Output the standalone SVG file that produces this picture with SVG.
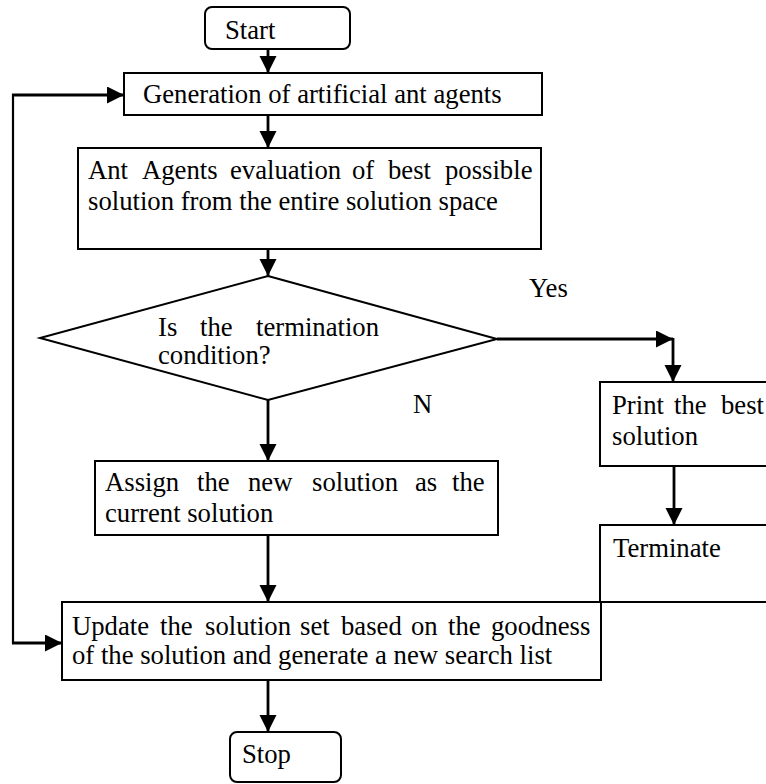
<svg xmlns="http://www.w3.org/2000/svg" width="766" height="784" viewBox="0 0 766 784">
<defs>
<marker id="ah" markerUnits="userSpaceOnUse" markerWidth="18" markerHeight="18" refX="17" refY="8.5" orient="auto">
<path d="M0,0 L17,8.5 L0,17 z" fill="#000"/>
</marker>
<style>
.box{fill:#fff;stroke:#000;stroke-width:2}
.c{fill:none;stroke:#000;stroke-width:2.8}
.t{font-family:"Liberation Serif","Times New Roman",serif;font-size:26.7px;fill:#000}
</style>
</defs>
<rect width="766" height="784" fill="#fff"/>
<g id="connectors">
<line class="c" x1="268" y1="49" x2="268" y2="73" marker-end="url(#ah)"/>
<line class="c" x1="268" y1="115" x2="268" y2="148" marker-end="url(#ah)"/>
<line class="c" x1="268" y1="249" x2="268" y2="276" marker-end="url(#ah)"/>
<line class="c" x1="268" y1="400" x2="268" y2="461" marker-end="url(#ah)"/>
<line class="c" x1="268" y1="535" x2="268" y2="602" marker-end="url(#ah)"/>
<line class="c" x1="268" y1="680" x2="268" y2="732" marker-end="url(#ah)"/>
<line class="c" x1="497" y1="339" x2="673" y2="339" marker-end="url(#ah)"/>
<line class="c" x1="673" y1="338" x2="673" y2="382" marker-end="url(#ah)"/>
<line class="c" x1="674" y1="466" x2="674" y2="525" marker-end="url(#ah)"/>
<line x1="13" y1="94" x2="13" y2="644" stroke="#000" stroke-width="2.2"/>
<line class="c" x1="12" y1="95" x2="124" y2="95" marker-end="url(#ah)"/>
<line class="c" x1="12" y1="643" x2="62" y2="643" marker-end="url(#ah)"/>
<text class="t" x="529" y="297">Yes</text>
<text class="t" x="413" y="413">N</text>
</g>
<g id="start">
<rect class="box" x="205" y="7" width="145" height="42" rx="7"/>
<text class="t" x="225" y="39">Start</text>
</g>
<g id="generation">
<rect class="box" x="124" y="73" width="418" height="42"/>
<text class="t" x="143" y="103">Generation of artificial ant agents</text>
</g>
<g id="evaluation">
<rect class="box" x="78" y="148" width="463" height="101"/>
<text class="t" y="179"><tspan x="88">Ant </tspan><tspan x="142">Agents </tspan><tspan x="230">evaluation </tspan><tspan x="352">of </tspan><tspan x="388">best </tspan><tspan x="445">possible</tspan></text>
<text class="t" x="88" y="210">solution from the entire solution space</text>
</g>
<g id="decision">
<polygon class="box" points="268,276 497,339 268,400 40,338"/>
<text class="t" y="336"><tspan x="158">Is </tspan><tspan x="200">the </tspan><tspan x="256">termination</tspan></text>
<text class="t" x="158" y="364">condition?</text>
</g>
<g id="print">
<rect class="box" x="600" y="382" width="200" height="84"/>
<text class="t" y="414"><tspan x="612">Print </tspan><tspan x="674">the </tspan><tspan x="721">best</tspan></text>
<text class="t" x="612" y="445">solution</text>
</g>
<g id="terminate">
<rect class="box" x="600" y="525" width="200" height="77"/>
<text class="t" x="613" y="557">Terminate</text>
</g>
<g id="assign">
<rect class="box" x="95" y="461" width="403" height="74"/>
<text class="t" y="491"><tspan x="105">Assign </tspan><tspan x="197">the </tspan><tspan x="248">new </tspan><tspan x="312">solution </tspan><tspan x="415">as </tspan><tspan x="452">the</tspan></text>
<text class="t" x="105" y="522">current solution</text>
</g>
<g id="update">
<rect class="box" x="62" y="602" width="539" height="78"/>
<text class="t" y="635"><tspan x="72">Update </tspan><tspan x="160">the </tspan><tspan x="205">solution </tspan><tspan x="300">set </tspan><tspan x="341">based </tspan><tspan x="411">on </tspan><tspan x="448">the </tspan><tspan x="491">goodness</tspan></text>
<text class="t" x="72" y="664">of the solution and generate a new search list</text>
</g>
<g id="stop">
<rect class="box" x="230" y="732" width="111" height="50" rx="7"/>
<text class="t" x="242" y="763">Stop</text>
</g>
</svg>
